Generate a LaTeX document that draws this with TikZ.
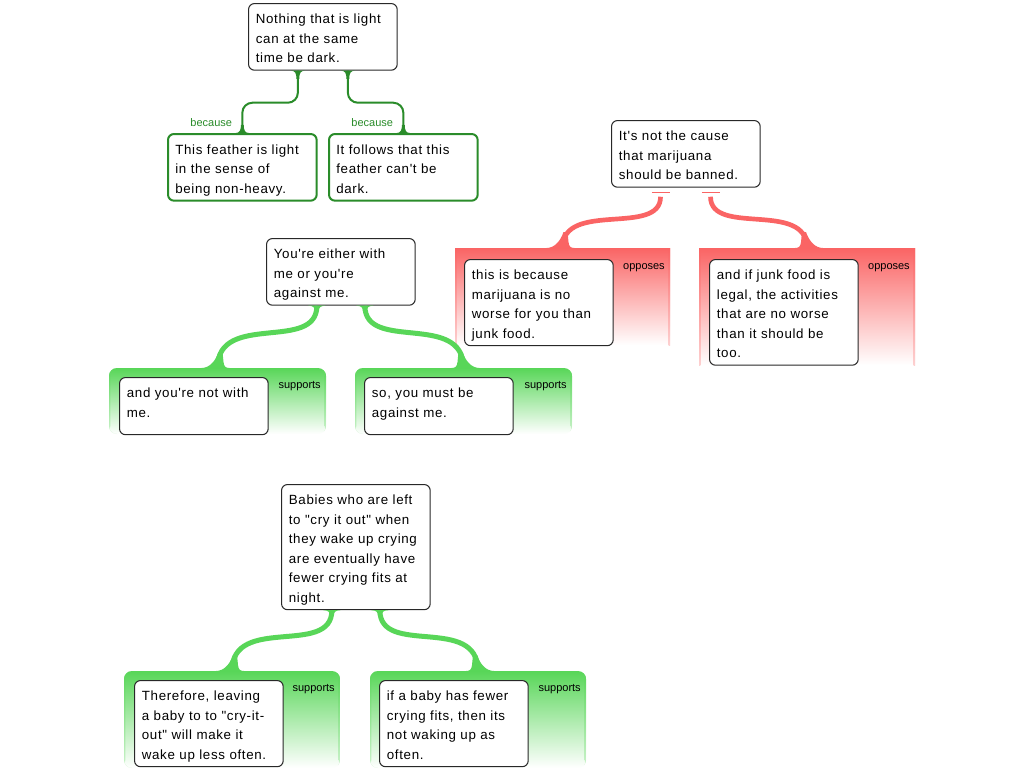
\documentclass[tikz,border=0pt]{standalone}
\usepackage{fontspec}
\setmainfont{Liberation Sans}
\newfontfamily\claimfont[LetterSpace=5,Ligatures=TeXOff]{Liberation Sans}
\newfontfamily\tagfont[Ligatures=TeXOff]{Liberation Sans}
\usepackage{tikz}

\definecolor{becausegreen}{RGB}{42,140,42}
\definecolor{suppgreen}{RGB}{88,214,88}
\definecolor{oppred}{RGB}{250,100,100}
\definecolor{boxline}{RGB}{40,40,40}

\tikzset{
  claim/.style={draw=boxline, line width=0.8pt, rounded corners=4.5pt, fill=white,
    anchor=north west, align=left, text width=100.5pt, inner xsep=5.5pt, inner ysep=0pt,
    font=\claimfont\fontsize{10pt}{14.625pt}\selectfont,
    execute at begin node=\rule{0pt}{15.25pt},
    execute at end node=\rule[-5.5pt]{0pt}{0pt}},
  reasonbox/.style={claim, draw=becausegreen, line width=1.5pt},
  edges/.style={path picture={
    \shade[top color=#1, bottom color=#1!30] (path picture bounding box.north west) rectangle ([xshift=1pt]path picture bounding box.south west);
    \shade[top color=#1, bottom color=#1!30] ([xshift=-1pt]path picture bounding box.north east) rectangle (path picture bounding box.south east);}},
  suppanel/.style={anchor=north west, inner sep=0pt, outer sep=0pt, rounded corners=6pt,
    top color=suppgreen, bottom color=white, edges=suppgreen},
  opppanel/.style={anchor=north west, inner sep=0pt, outer sep=0pt,
    top color=oppred, bottom color=white, edges=oppred},
  tag/.style={font=\tagfont\fontsize{8.25pt}{10pt}\selectfont, inner sep=0pt, anchor=base east},
  becausetag/.style={tag, text=becausegreen},
  becauselink/.style={draw=becausegreen, line width=1.5pt, rounded corners=7.5pt},
  supportlink/.style={draw=suppgreen, line width=3.75pt},
  opposelink/.style={draw=oppred, line width=3.5pt},
  oppbar/.style={draw=oppred, line width=1pt},
  flare/.pic={\path[pic actions] (-12,0) .. controls (-5,0) and (-2.5,-5) .. (-2.5,-15)
    -- (2.5,-15) .. controls (2.5,-5) and (5,0) .. (12,0) -- cycle;},
  foot/.pic={\path[pic actions] (-16,0) .. controls (-8,0) and (-2,-7) .. (1,-16)
    -- (5,-16) -- (6,-6) .. controls (6.5,-1.5) and (8,0) .. (12,0) -- cycle;}
}

\begin{document}
\begin{tikzpicture}[x=0.75pt, y=-0.75pt]
\path[use as bounding box, fill=white] (0,0) rectangle (1024,768);

% light / dark argument with two reasons
\node[claim] (light) at (248,3) {Nothing that is light\\can at the same\\time be dark.};
\node[reasonbox] (feather) at (167,133) {This feather is light\\in the sense of\\being non-heavy.};
\node[reasonbox] (notdark) at (328,133) {It follows that this\\feather can't be\\dark.};
\draw[becauselink] ([xshift=-18.75pt]light.south) -- ++(0,32) -| (feather.north);
\draw[becauselink] ([xshift=18.75pt]light.south) -- ++(0,32) -| (notdark.north);
\pic[fill=becausegreen, scale=0.55, yscale=-1] at ([xshift=-18.75pt]light.south) {flare};
\pic[fill=becausegreen, scale=0.55, yscale=-1] at ([xshift=18.75pt]light.south) {flare};
\pic[fill=becausegreen, scale=0.55] at (feather.north) {flare};
\pic[fill=becausegreen, scale=0.55] at (notdark.north) {flare};
\node[becausetag] (becA) at ([xshift=-7.5pt, yshift=5pt]feather.north) {because};
\node[becausetag] (becB) at ([xshift=-7.5pt, yshift=5pt]notdark.north) {because};

% marijuana claim with two objections
\node[opppanel, minimum width=161.25pt, minimum height=72.75pt] (oppA) at (455,248) {};
\node[opppanel, minimum width=162pt, minimum height=87.75pt] (oppB) at (699,248) {};
\node[claim] (cause) at (611,120) {It's not the cause\\that marijuana\\should be banned.};
\node[claim] (junk) at (464,259) {this is because\\marijuana is no\\worse for you than\\junk food.};
\node[claim] (legal) at (709,259) {and if junk food is\\legal, the activities\\that are no worse\\than it should be\\too.};
\draw[oppbar] ([xshift=-25.5pt, yshift=-3.75pt]cause.south) -- ++(18,0);
\draw[oppbar] ([xshift=12pt, yshift=-3.75pt]cause.south) -- ++(18,0);
\draw[opposelink] ([xshift=-19pt, yshift=-6.75pt]cause.south) .. controls +(0,40) and +(0,-48) .. (oppA.north);
\draw[opposelink] ([xshift=18.5pt, yshift=-6.75pt]cause.south) .. controls +(0,40) and +(0,-48) .. (oppB.north);
\pic[fill=oppred] at (oppA.north) {foot};
\pic[fill=oppred, xscale=-1] at (oppB.north) {foot};
\node[tag] (oppsA) at ([xshift=-3.75pt, yshift=-15.75pt]oppA.north east) {opposes};
\node[tag] (oppsB) at ([xshift=-3.75pt, yshift=-15.75pt]oppB.north east) {opposes};

% with me or against me
\node[suppanel, minimum width=162.75pt, minimum height=49.5pt] (supA) at (109,368) {};
\node[suppanel, minimum width=162.75pt, minimum height=49.5pt] (supB) at (355,368) {};
\node[claim] (either) at (266,238) {You're either with\\me or you're\\against me.};
\node[claim] (notwith) at (119,377) {and you're not with\\me.\rule[-13pt]{0pt}{0pt}};
\node[claim] (mustbe) at (364,377) {so, you must be\\against me.\rule[-13pt]{0pt}{0pt}};
\draw[supportlink] ([xshift=-18pt]either.south) .. controls +(0,47) and +(0,-57) .. (supA.north);
\draw[supportlink] ([xshift=18pt]either.south) .. controls +(0,47) and +(0,-57) .. (supB.north);
\pic[fill=suppgreen, xscale=0.7, yscale=-0.4] at ([xshift=-18pt]either.south) {flare};
\pic[fill=suppgreen, xscale=0.7, yscale=-0.4] at ([xshift=18pt]either.south) {flare};
\pic[fill=suppgreen] at (supA.north) {foot};
\pic[fill=suppgreen, xscale=-1] at (supB.north) {foot};
\node[tag] (supsA) at ([xshift=-3.75pt, yshift=-15pt]supA.north east) {supports};
\node[tag] (supsB) at ([xshift=-3.75pt, yshift=-15pt]supB.north east) {supports};

% crying it out
\node[suppanel, minimum width=162pt, minimum height=72.75pt] (supC) at (124,671) {};
\node[suppanel, minimum width=162pt, minimum height=72.75pt] (supD) at (370,671) {};
\node[claim] (babies) at (281,484) {Babies who are left\\to "cry it out" when\\they wake up crying\\are eventually have\\fewer crying fits at\\night.};
\node[claim] (leaving) at (134,680) {Therefore, leaving\\a baby to to "cry-it-\\out" will make it\\wake up less often.};
\node[claim] (fewer) at (379,680) {if a baby has fewer\\crying fits, then its\\not waking up as\\often.};
\draw[supportlink] ([xshift=-18pt]babies.south) .. controls +(0,47) and +(0,-57) .. (supC.north);
\draw[supportlink] ([xshift=18pt]babies.south) .. controls +(0,47) and +(0,-57) .. (supD.north);
\pic[fill=suppgreen, xscale=0.7, yscale=-0.4] at ([xshift=-18pt]babies.south) {flare};
\pic[fill=suppgreen, xscale=0.7, yscale=-0.4] at ([xshift=18pt]babies.south) {flare};
\pic[fill=suppgreen] at (supC.north) {foot};
\pic[fill=suppgreen, xscale=-1] at (supD.north) {foot};
\node[tag] (supsC) at ([xshift=-3.75pt, yshift=-15pt]supC.north east) {supports};
\node[tag] (supsD) at ([xshift=-3.75pt, yshift=-15pt]supD.north east) {supports};
\end{tikzpicture}
\end{document}
